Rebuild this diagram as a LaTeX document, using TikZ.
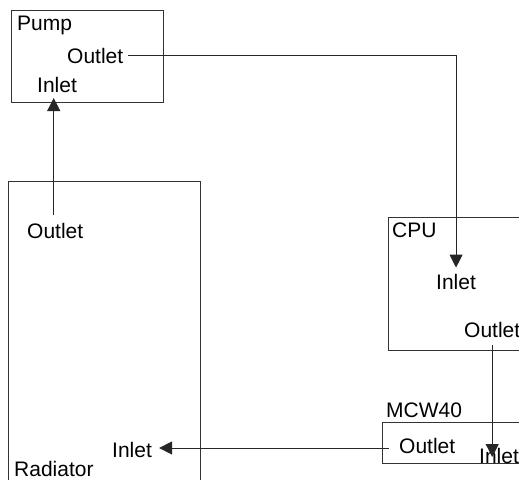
\documentclass[tikz,border=0pt]{standalone}
\usepackage{fontspec}
\setmainfont{Liberation Sans}
\usetikzlibrary{arrows.meta,calc}
\begin{document}
\begin{tikzpicture}[x=1pt,y=-1pt,
  boxline/.style={draw=black!80,line width=0.9pt},
  lbl/.style={anchor=base west,inner sep=0pt,font=\fontsize{21}{25}\selectfont},
  flow/.style={draw=black!85,line width=0.9pt,-{Triangle[length=13pt,width=13pt]}}]
\useasboundingbox (0,0) rectangle (519,479);
\clip (0,0) rectangle (519,479);
% boxes
\draw[boxline] (11.5,10) rectangle (163,102) coordinate (pumpbox);
\draw[boxline] (8,181) rectangle (200,495) coordinate (radbox);
\draw[boxline] (388,217) rectangle (535,350) coordinate (cpubox);
\draw[boxline] (382,422) rectangle (535,463) coordinate (mcwbox);
% labels
\node[lbl] (pump) at (17,30) {Pump};
\node[lbl] (pout) at (67,63) {Outlet};
\node[lbl] (pin)  at (37,92) {Inlet};
\node[lbl] (rout) at (27,238) {Outlet};
\node[lbl] (cpu)  at (392,237) {CPU};
\node[lbl] (cin)  at (436,289) {Inlet};
\node[lbl] (cout) at (464,337) {Outlet};
\node[lbl] (mcw)  at (386,417) {MCW40};
\node[lbl] (mout) at (399,453) {Outlet};
\node[lbl] (min)  at (479,463) {Inlet};
\node[lbl] (rin)  at (112,457) {Inlet};
\node[lbl] (rad)  at (14,476) {Radiator};
% connectors
\draw[flow,shorten <=5pt,shorten >=6pt] (pout.east) -| (cin.north);
\draw[flow] ($(rout.north)+(-1.5,-8)$) -- ($(rout.north |- pin.base)+(-1.5,6)$);
\draw[flow] ($(cout.south)+(0,8)$) -- ($(cout.south |- min.base)+(0,-6)$);
\draw[flow,shorten >=7pt] ($(mout.west |- rin.east)+(-10,-1.5)$) -- ($(rin.east)+(0,-1.5)$);
\end{tikzpicture}
\end{document}
